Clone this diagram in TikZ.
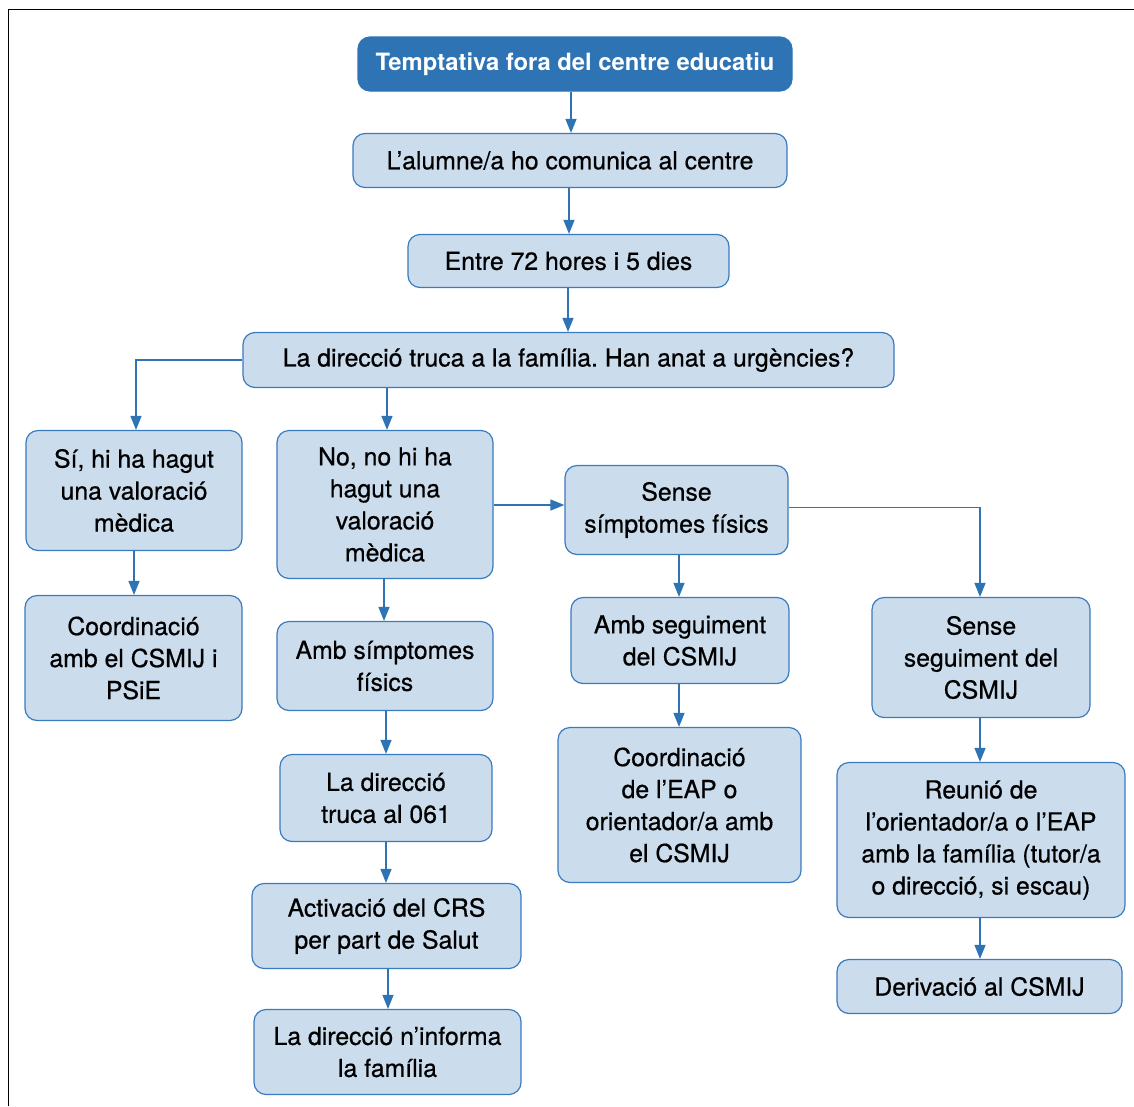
\documentclass[tikz,border=0pt]{standalone}
\usepackage{fontspec}
\setmainfont{TeX Gyre Heros}
\newfontfamily\boxfont[FakeBold=0.6]{TeX Gyre Heros}
\usetikzlibrary{arrows.meta}
\definecolor{dblue}{HTML}{2E74B5}
\definecolor{lblue}{HTML}{CBDCEC}
\definecolor{bord}{HTML}{3A7BBF}
\frenchspacing
\begin{document}
\begin{tikzpicture}[x=1pt,y=-1pt,
 box/.style={draw=bord, line width=1.2pt, fill=lblue, rounded corners=12pt, inner sep=0pt, align=center, font=\boxfont\fontsize{24.8}{32}\selectfont},
 titlebox/.style={box, draw=dblue, fill=dblue, text=white, font=\fontsize{23.8}{32}\selectfont\bfseries},
 arr/.style={draw=dblue, line width=1.4pt, -{Triangle[width=11pt,length=14pt]}}]
\useasboundingbox (0,0) rectangle (1134,1106);
\draw[line width=1.5pt] (8.5,1106) -- (8.5,9.5) -- (1134,9.5);

\node[titlebox, minimum width=434pt, minimum height=54pt] (t) at (575,64) {Temptativa fora del centre educatiu};
\node[box, minimum width=434pt, minimum height=54pt] (a) at (570,160.5) {L’alumne/a ho comunica al centre};
\node[box, minimum width=321pt, minimum height=53pt] (e) at (568.5,261) {Entre 72 hores i 5 dies};
\node[box, minimum width=651pt, minimum height=55pt] (d) at (568.5,360) {La direcció truca a la família. Han anat a urgències?};
\node[box, minimum width=216pt, minimum height=120pt] (si) at (134,490.5) {Sí, hi ha hagut\\una valoració\\mèdica};
\node[box, minimum width=216pt, minimum height=148pt] (no) at (385,504.5) {No, no hi ha\\hagut una\\valoració\\mèdica};
\node[box, minimum width=223pt, minimum height=89pt] (ss) at (676.5,510) {Sense\\símptomes físics};
\node[box, minimum width=217pt, minimum height=125pt] (coord) at (133.5,658) {Coordinació\\amb el CSMIJ i\\PSiE};
\node[box, minimum width=216pt, minimum height=89pt] (amb) at (385,666) {Amb símptomes\\físics};
\node[box, minimum width=218pt, minimum height=86pt] (ambs) at (680,640.5) {Amb seguiment\\del CSMIJ};
\node[box, minimum width=218pt, minimum height=120pt] (sseg) at (981,657.5) {Sense\\seguiment del\\CSMIJ};
\node[box, minimum width=212pt, minimum height=87pt] (d061) at (386,798) {La direcció\\truca al 061};
\node[box, minimum width=243pt, minimum height=155pt] (eap) at (679.5,805) {Coordinació\\de l’EAP o\\orientador/a amb\\el CSMIJ};
\node[box, minimum width=288pt, minimum height=155pt] (reu) at (981,840) {Reunió de\\l’orientador/a o l’EAP\\amb la família (tutor/a\\o direcció, si escau)};
\node[box, minimum width=269pt, minimum height=85pt] (act) at (386.5,926) {Activació del CRS\\per part de Salut};
\node[box, minimum width=285pt, minimum height=54pt] (der) at (979.5,986.5) {Derivació al CSMIJ};
\node[box, minimum width=267pt, minimum height=85pt] (inf) at (387.5,1052) {La direcció n’informa\\la família};

\coordinate (x571) at (571,0);
\coordinate (x569) at (569,0);
\coordinate (x568) at (568,0);
\coordinate (x387) at (387,0);
\coordinate (x136) at (136,0);
\coordinate (x134) at (134,0);
\coordinate (x384) at (384,0);
\coordinate (x386) at (386,0);
\coordinate (x388) at (388,0);
\coordinate (x679) at (679,0);
\coordinate (x980) at (980,0);
\coordinate (y505) at (0,505);
\coordinate (y507) at (0,507.5);

\draw[arr] (t.south -| x571) -- (a.north -| x571);
\draw[arr] (a.south -| x569) -- (e.north -| x569);
\draw[arr] (e.south -| x568) -- (d.north -| x568);
\draw[arr] (d.west) -- (d.west -| x136) -- (si.north -| x136);
\draw[arr] (d.south -| x387) -- (no.north -| x387);
\draw[arr] (no.east |- y505) -- (ss.west |- y505);
\draw[arr] (ss.east |- y507) -- (x980 |- y507) -- (sseg.north -| x980);
\draw[arr] (si.south -| x134) -- (coord.north -| x134);
\draw[arr] (no.south -| x384) -- (amb.north -| x384);
\draw[arr] (amb.south -| x386) -- (d061.north -| x386);
\draw[arr] (d061.south -| x386) -- (act.north -| x386);
\draw[arr] (act.south -| x388) -- (inf.north -| x388);
\draw[arr] (ss.south -| x679) -- (ambs.north -| x679);
\draw[arr] (ambs.south -| x679) -- (eap.north -| x679);
\draw[arr] (sseg.south -| x980) -- (reu.north -| x980);
\draw[arr] (reu.south -| x980) -- (der.north -| x980);
\end{tikzpicture}
\end{document}
